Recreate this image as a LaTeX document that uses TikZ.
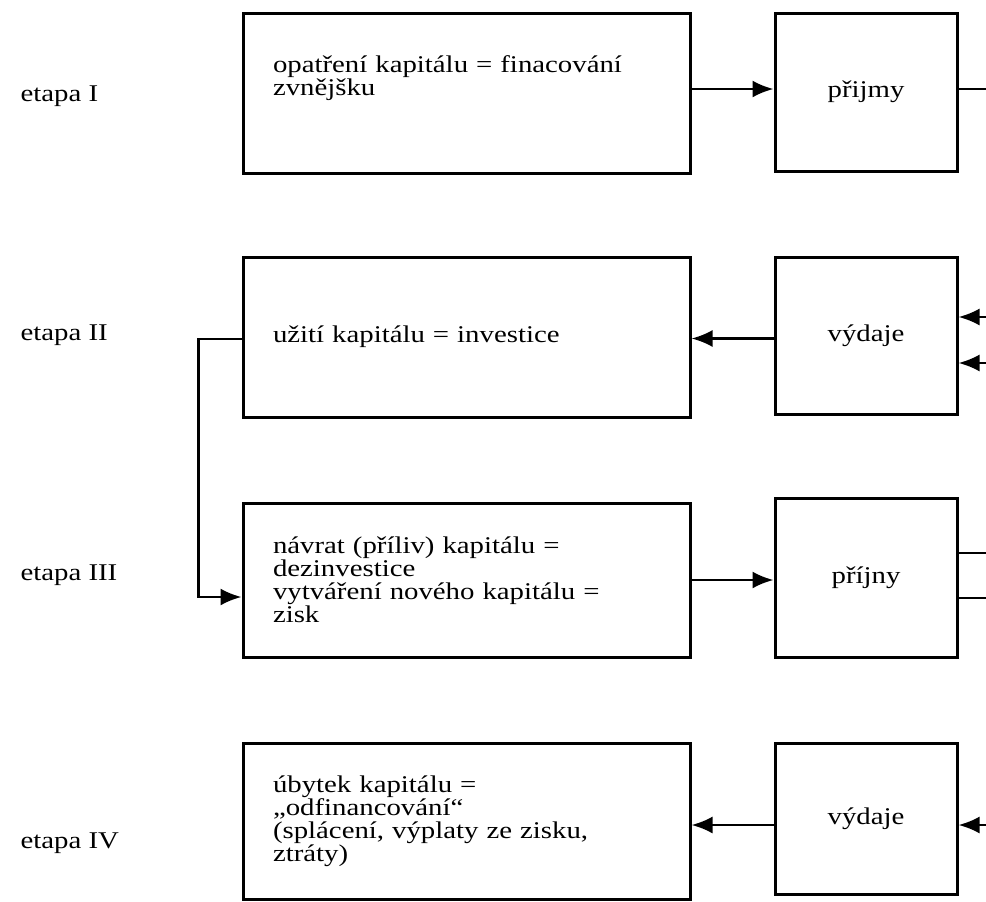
\documentclass[tikz,border=0pt]{standalone}
\usepackage{fontspec}
\setmainfont{Liberation Serif}[FakeStretch=1.2]
\usetikzlibrary{arrows.meta}
\tikzstyle{bigbox}=[draw,line width=3pt,minimum width=447pt,text width=387pt,align=left,inner sep=0pt]
\tikzstyle{smallbox}=[draw,line width=3pt,minimum width=182pt,align=center,inner sep=0pt]
\tikzstyle{flow}=[line width=2.6pt,-{Latex[length=21pt,width=17pt]}]
\tikzstyle{stub}=[line width=2.6pt]
\newcommand{\boxfont}{\fontsize{24}{23}\selectfont}

\begin{document}
\begin{tikzpicture}[x=1pt,y=-1pt,font=\boxfont]
	\useasboundingbox (0,0) rectangle (986,902);
	% stage labels
	\node[anchor=base west] (st1) at (17,101) {etapa I};
	\node[anchor=base west] (st2) at (17,340) {etapa II};
	\node[anchor=base west] (st3) at (17,580) {etapa III};
	\node[anchor=base west] (st4) at (17,848) {etapa IV};
	% capital side
	\node[bigbox,minimum height=160pt,text height=17pt,text depth=59pt] (lb1) at (466.5,93) {opatření kapitálu = finacování\\zvnějšku};
	\node[bigbox,minimum height=160pt] (lb2) at (466.5,337) {užití kapitálu = investice};
	\node[bigbox,minimum height=154pt] (lb3) at (466.5,580) {návrat (příliv) kapitálu =\\dezinvestice\\vytváření nového kapitálu =\\zisk};
	\node[bigbox,minimum height=156pt] (lb4) at (466.5,821) {úbytek kapitálu =\\„odfinancování“\\(splácení, výplaty ze zisku,\\ztráty)};
	% cash side
	\node[smallbox,minimum height=158pt] (rb1) at (866,92) {přijmy};
	\node[smallbox,minimum height=157pt] (rb2) at (866,335.5) {výdaje};
	\node[smallbox,minimum height=159pt] (rb3) at (866,577.5) {příjny};
	\node[smallbox,minimum height=151pt] (rb4) at (866,818.5) {výdaje};
	% free ends at the right margin
	\coordinate (e1) at (986,89);
	\coordinate (e2a) at (986,317);
	\coordinate (e2b) at (986,363);
	\coordinate (e3a) at (986,553);
	\coordinate (e3b) at (986,598);
	\coordinate (e4) at (986,825);
	% flows between the columns
	\draw[flow] (lb1.east |- e1) -- (rb1.west |- e1);
	\draw[flow] ([yshift=-3pt]rb2.west) -- ([yshift=-3pt]rb2.west -| lb2.east);
	\draw[flow] (lb3.east) -- (lb3.east -| rb3.west);
	\draw[flow] (rb4.west |- e4) -- (lb4.east |- e4);
	% stubs on the right
	\draw[stub] (rb1.east |- e1) -- (e1);
	\draw[flow] (e2a) -- (rb2.east |- e2a);
	\draw[flow] (e2b) -- (rb2.east |- e2b);
	\draw[stub] (rb3.east |- e3a) -- (e3a);
	\draw[stub] (rb3.east |- e3b) -- (e3b);
	\draw[flow] (e4) -- (rb4.east |- e4);
	% back loop II -> III
	\draw[flow] ([yshift=-2pt]lb2.west) -- ++(-43,0) |- ([yshift=-17pt]lb3.west);
\end{tikzpicture}
\end{document}
